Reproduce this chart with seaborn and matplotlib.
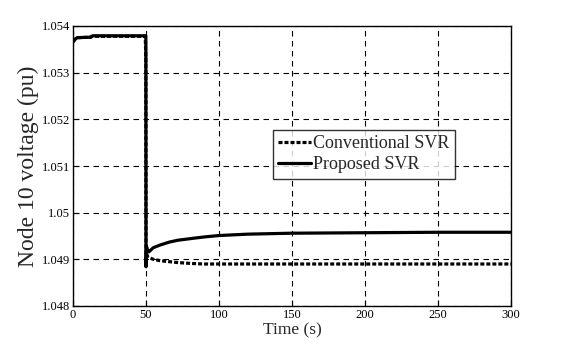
import numpy as np
import pandas as pd
import matplotlib
matplotlib.use("Agg")
import matplotlib.pyplot as plt
import seaborn as sns

time_s = [0, 1.5, 3, 12, 13.5, 20, 30, 40, 49.5, 49.9, 50.0, 50.4, 51, 52, 55, 60, 66, 72, 82, 90, 100, 120, 150, 200, 250, 300]
conventional = [1.05366, 1.05372, 1.05375, 1.05376, 1.05378, 1.05378, 1.05378, 1.05378, 1.05378, 1.05327, 1.04884, 1.04912, 1.04906, 1.04904, 1.04900, 1.04897, 1.04895, 1.04893, 1.04891, 1.04890, 1.04890, 1.04890, 1.04890, 1.04890, 1.04890, 1.04890]
proposed = [1.05366, 1.05372, 1.05375, 1.05376, 1.05379, 1.05379, 1.05379, 1.05379, 1.05379, 1.05379, 1.04884, 1.04927, 1.04920, 1.04916, 1.04925, 1.04931, 1.04937, 1.04941, 1.04945, 1.04948, 1.04951, 1.04954, 1.04956, 1.04957, 1.04958, 1.04958]
series_names = ["Conventional SVR", "Proposed SVR"]
x_ticks = [0, 50, 100, 150, 200, 250, 300]
y_ticks = [1.048, 1.049, 1.05, 1.051, 1.052, 1.053, 1.054]
y_ticklabels = ["1.048", "1.049", "1.05", "1.051", "1.052", "1.053", "1.054"]

df = pd.DataFrame({
    "t": time_s * 2,
    "v": conventional + proposed,
    "s": [series_names[0]] * len(time_s) + [series_names[1]] * len(time_s),
})

sns.set_style("ticks")
plt.rcParams["font.family"] = ["Liberation Serif", "DejaVu Serif"]

fig = plt.figure(figsize=(5.64, 3.45), dpi=100)
ax = fig.add_axes([73/564, 1-306/345, (511-73)/564, (306-26)/345])

sns.lineplot(data=df, x="t", y="v", hue="s", style="s",
             palette=["black", "black"],
             dashes={series_names[0]: (1.25, 0.63), series_names[1]: ""},
             linewidth=2.3, ax=ax, legend=True, estimator=None, sort=False)

ax.set_xlim(0, 300)
ax.set_ylim(1.048, 1.054)
ax.set_xticks(x_ticks)
ax.set_xticklabels([str(v) for v in x_ticks], fontsize=9)
ax.set_yticks(y_ticks)
ax.set_yticklabels(y_ticklabels, fontsize=9)
ax.tick_params(direction="in", length=4, width=0.8, colors="black", pad=2)
ax.grid(True, color="black", linestyle=(0, (5, 4)), linewidth=0.8)
for sp in ax.spines.values():
    sp.set_color("black")
    sp.set_linewidth(1.0)
ax.set_xlabel("Time (s)", fontsize=12.5, labelpad=1)
ax.set_ylabel("Node 10 voltage (pu)", fontsize=17, labelpad=2)

leg = ax.legend(loc="upper left", bbox_to_anchor=((273-73)/438, 1-(130-26)/280),
                frameon=True, fancybox=False, fontsize=13, handlelength=1.8,
                handletextpad=0.1, borderpad=0.3, labelspacing=0.22, borderaxespad=0)
leg.get_frame().set_edgecolor("black")
leg.get_frame().set_linewidth(1.0)
for line in leg.get_lines():
    line.set_linewidth(2.3)

fig.savefig("out.png", dpi=100)
